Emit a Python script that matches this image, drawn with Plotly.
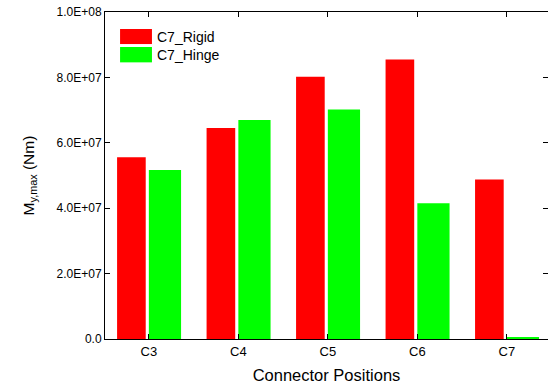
import plotly.graph_objects as go

positions = ["C3", "C4", "C5", "C6", "C7"]
rigid = [5.56e7, 6.45e7, 8.02e7, 8.55e7, 4.88e7]
hinge = [5.17e7, 6.70e7, 7.02e7, 4.15e7, 4.0e5]
series_names = ["C7_Rigid", "C7_Hinge"]
series_colors = ["#FF0000", "#00FF00"]
y_ticks = [0, 2e7, 4e7, 6e7, 8e7, 1e8]
y_tick_text = ["0.0", "2.0E+07", "4.0E+07", "6.0E+07", "8.0E+07", "1.0E+08"]

FONT = "Liberation Sans, Arial, sans-serif"

fig = go.Figure()
fig.add_trace(go.Bar(x=positions, y=rigid, name=series_names[0],
                     marker=dict(color=series_colors[0], line=dict(width=0)),
                     offset=-0.355, width=0.32))
fig.add_trace(go.Bar(x=positions, y=hinge, name=series_names[1],
                     marker=dict(color=series_colors[1], line=dict(width=0)),
                     offset=0.0, width=0.36))

# legend box drawn in plot-area coordinates
legend_rows = [(0.948, 0.902, 0.925), (0.893, 0.846, 0.870)]
for (y0, y1, yt), name, col in zip(legend_rows, series_names, series_colors):
    fig.add_shape(type="rect", xref="paper", yref="paper",
                  x0=0.034, x1=0.106, y0=y1, y1=y0,
                  fillcolor=col, line=dict(width=0))
    fig.add_annotation(xref="paper", yref="paper", x=0.113, y=yt,
                       text=name, showarrow=False, xanchor="left",
                       yanchor="middle", font=dict(size=14, color="black", family=FONT))

fig.update_layout(
    width=548, height=389,
    margin=dict(l=105, r=0, t=12, b=50),
    plot_bgcolor="white", paper_bgcolor="white",
    showlegend=False, barmode="overlay",
    font=dict(family=FONT, color="black", size=12),
)
fig.update_xaxes(
    type="category", range=[-0.49, 4.46],
    showline=True, linecolor="black", linewidth=1, mirror="ticks",
    ticks="inside", ticklen=5, tickcolor="black", showgrid=False,
    tickfont=dict(size=13),
    title=dict(text="Connector Positions", font=dict(size=16.5), standoff=11),
)
fig.update_yaxes(
    range=[0, 1e8], tickvals=y_ticks, ticktext=y_tick_text,
    showline=True, linecolor="black", linewidth=1, mirror="ticks",
    ticks="inside", ticklen=5, tickcolor="black", showgrid=False, zeroline=False,
    tickfont=dict(size=12),
    title=dict(text="M<sub>y,max</sub> (Nm)", font=dict(size=15.5), standoff=18),
)

fig.write_html("out.html")
